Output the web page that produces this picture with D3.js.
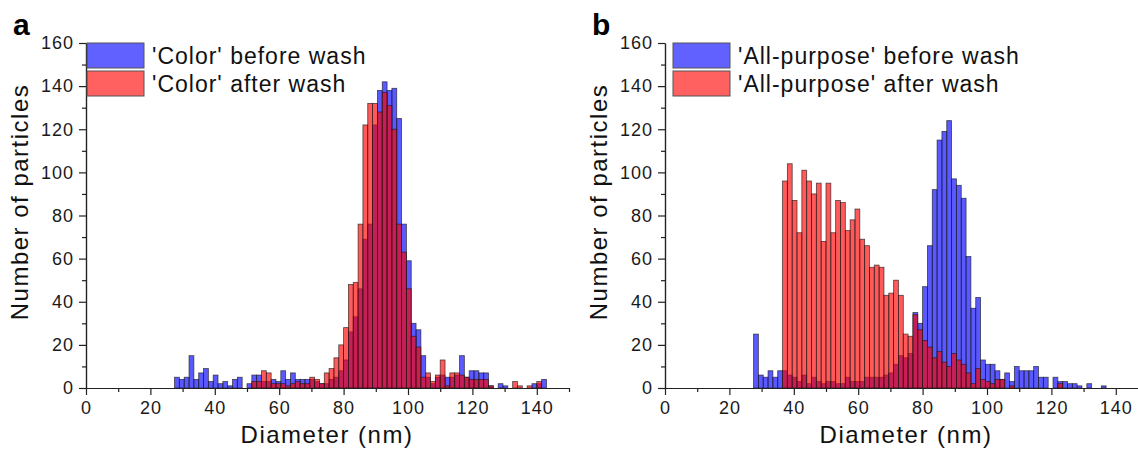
<!DOCTYPE html>
<html>
<head>
<meta charset="utf-8">
<script src="https://cdn.jsdelivr.net/npm/d3@7"></script>
<style>
  body { margin: 0; background: #fff; }
  svg { display: block; font-family: "Liberation Sans", Arial, sans-serif; }
</style>
</head>
<body>
<svg id="chart" width="1138" height="449"></svg>
<script>
// histogram bins (nm): left edge of first bin and bin width
const binStart = 27.5;
const binWidth = 1.5;

// panel a - 'Color' detergent, counts per bin
const colorBefore = [5,4,5,15,4,7,9,3,6,2, 3,1,4,5,0,2,6,6,3,3,
  4,3,8,4,7,4,4,4,4,3, 2,2,4,5,8,13,26,33,46,69,
  76,122,138,142,138,139,125,76,59,30, 27,15,5,2,5,6,5,5,6,15,
  5,8,8,7,7,1,0,2,1,0, 0,0,0,0,2,2,4,0];
const colorAfter = [0,0,0,0,0,0,0,0,0,0, 0,0,0,0,0,0,3,3,8,7,
  2,2,2,1,2,3,2,2,5,4, 2,7,9,14,20,28,48,49,76,122,
  132,132,128,137,131,120,76,63,46,24, 19,5,7,3,6,13,1,7,7,6,
  5,4,4,4,4,1,0,0,0,0, 3,1,0,1,0,3,0,0];

// panel b - 'All-purpose' detergent
const allBefore = [25,6,5,8,5,8, 8,6,5,3,6,2,5,3,2,3,
  3,2,2,5,3,3,3,5,5,5, 5,6,7,11,15,14,16, 35,30,
  47,66,92,115,119,124,97,94,88,61,37,
  42,13,11,11,8,4,7,3,10,8, 8,8,10,5,5,0,5,3,3,2,
  2,1,0,2,0,0,1,0,0,0];
const allAfter = [0,0,0,0,0,0, 96,104,87,72,101,96,90,95,68,95,
  72,87,86,73,78,83,69,66,56,57, 56,43,44,50,43,25,24, 34,27,
  22,19,14,17,12,10,16,13,11,7,2,
  9,4,3,2,4,4,0,1,0,0, 0,0,0,0,0,0,0,2,0,0,
  0,0,0,0,0,0,0,0,0,0];

const xTicks = [0,20,40,60,80,100,120,140];
const xMinor = [10,30,50,70,90,110,130,150];
const yTicks = [0,20,40,60,80,100,120,140,160];
const yMinor = [10,30,50,70,90,110,130,150];

const blue = "#0000ff";
const red = "#ff0000";

const svg = d3.select('#chart');
svg.append('rect').attr('width', 1138).attr('height', 449).attr('fill', '#fff');

const panels = [
  { letter: 'a', left: 86, before: colorBefore, after: colorAfter,
    labels: ["'Color' before wash", "'Color' after wash"] },
  { letter: 'b', left: 665, before: allBefore, after: allAfter,
    labels: ["'All-purpose' before wash", "'All-purpose' after wash"] }
];

const plotW = 483;
const plotTop = 43, plotBottom = 388;

function styleAxis(sel, size) {
  sel.select('.domain').attr('stroke', '#222').attr('stroke-width', 1.2);
  sel.selectAll('.tick line').attr('stroke', '#222').attr('stroke-width', 1.2);
  sel.selectAll('.tick text')
    .attr('fill', '#1a1a1a')
    .style('font-family', '"Liberation Sans", Arial, sans-serif')
    .style('font-size', size + 'px')
    .style('letter-spacing', '1px');
}

function drawPanel(p) {
  const g = svg.append('g');
  const x = d3.scaleLinear().domain([0, 150]).range([p.left, p.left + plotW]);
  const y = d3.scaleLinear().domain([0, 160]).range([plotBottom, plotTop]);

  const bins = d3.range(p.before.length).map(i => binStart + i * binWidth);

  [[p.before, blue], [p.after, red]].forEach(([vals, color]) => {
    const rows = bins.map((b, i) => ({ b: b, v: vals[i] })).filter(d => d.v > 0);
    g.append('g').selectAll('rect')
      .data(rows)
      .join('rect')
      .attr('x', d => x(d.b))
      .attr('width', d => x(d.b + binWidth) - x(d.b))
      .attr('y', d => y(d.v))
      .attr('height', d => y(0) - y(d.v))
      .attr('fill', color)
      .attr('fill-opacity', 0.65)
      .attr('stroke', '#1a1a1a')
      .attr('stroke-opacity', 0.75)
      .attr('stroke-width', 0.8);
  });

  // x axis: minor then major ticks
  g.append('g').attr('transform', `translate(0,${plotBottom})`)
    .call(d3.axisBottom(x).tickValues(xMinor).tickSize(4).tickFormat('').tickSizeOuter(0))
    .call(styleAxis, 18);
  g.append('g').attr('transform', `translate(0,${plotBottom})`)
    .call(d3.axisBottom(x).tickValues(xTicks).tickSize(7).tickPadding(6).tickSizeOuter(0))
    .call(styleAxis, 18);

  // y axis
  g.append('g').attr('transform', `translate(${p.left},0)`)
    .call(d3.axisLeft(y).tickValues(yMinor).tickSize(4).tickFormat('').tickSizeOuter(0))
    .call(styleAxis, 18);
  g.append('g').attr('transform', `translate(${p.left},0)`)
    .call(d3.axisLeft(y).tickValues(yTicks).tickSize(7).tickPadding(5).tickSizeOuter(0))
    .call(styleAxis, 18);

  // axis titles
  g.append('text')
    .attr('x', p.left + 241)
    .attr('y', 443)
    .attr('text-anchor', 'middle')
    .style('font-size', '24px')
    .style('letter-spacing', '1.5px')
    .attr('fill', '#111')
    .text('Diameter (nm)');

  g.append('text')
    .attr('transform', `translate(${p.left - 58},202) rotate(-90)`)
    .attr('text-anchor', 'middle')
    .style('font-size', '24px')
    .style('letter-spacing', '1.5px')
    .attr('fill', '#111')
    .text('Number of particles');

  // panel letter
  g.append('text')
    .attr('x', p.left - 73)
    .attr('y', 35)
    .style('font-size', '30px')
    .style('font-weight', 'bold')
    .attr('fill', '#000')
    .text(p.letter);

  // legend
  const leg = g.append('g');
  [blue, red].forEach((c, i) => {
    leg.append('rect')
      .attr('x', p.left + 1 + (p.letter === 'b' ? 7 : 0))
      .attr('y', 43 + i * 28)
      .attr('width', 57)
      .attr('height', 25)
      .attr('fill', c)
      .attr('fill-opacity', 0.62)
      .attr('stroke', '#555')
      .attr('stroke-width', 1);
    leg.append('text')
      .attr('x', p.left + 66 + (p.letter === 'b' ? 7 : 0))
      .attr('y', 64 + i * 28)
      .style('font-size', '23px')
      .style('letter-spacing', '1px')
      .attr('fill', '#111')
      .text(p.labels[i]);
  });
}

panels.forEach(drawPanel);
</script>
</body>
</html>
